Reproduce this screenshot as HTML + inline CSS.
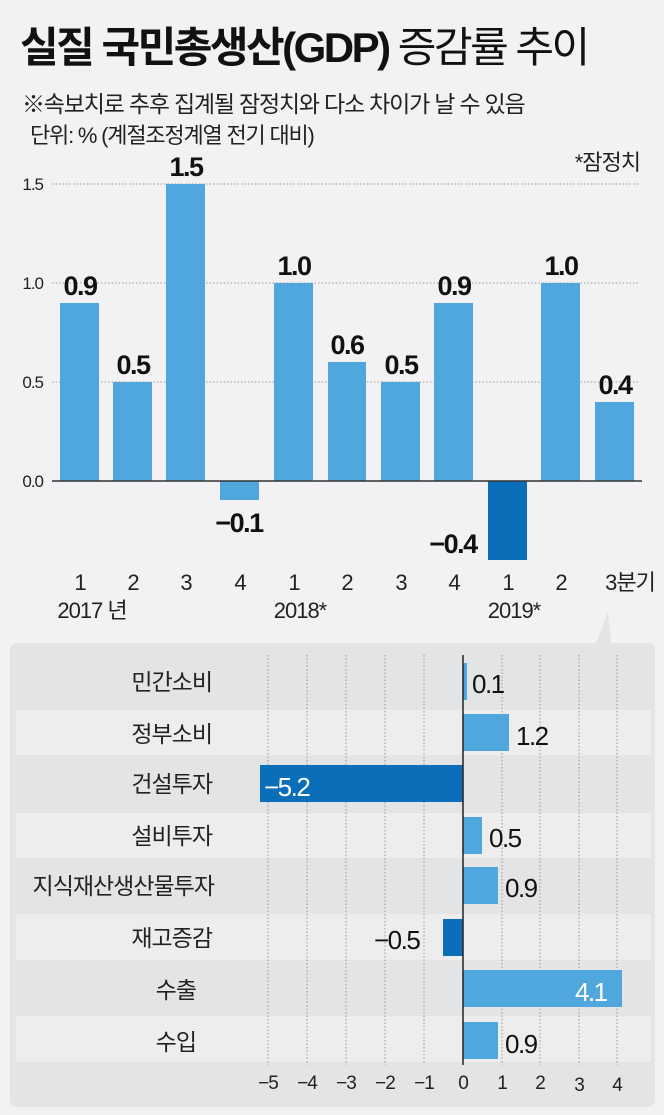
<!DOCTYPE html>
<html><head><meta charset="utf-8"><style>
html,body{margin:0;padding:0;background:#f2f2f4;}
svg{display:block;font-family:"Liberation Sans","Noto Sans CJK KR",sans-serif;}
</style></head><body>
<svg width="664" height="1115" viewBox="0 0 664 1115">
<rect width="664" height="1115" fill="#f2f2f4"/>
<text x="20" y="62" font-size="42" font-weight="bold" fill="#111" letter-spacing="-2.5">실질 국민총생산(GDP)<tspan font-weight="normal"> 증감률 추이</tspan></text>
<text x="22" y="112" font-size="23" fill="#222" letter-spacing="-1.2">※속보치로 추후 집계될 잠정치와 다소 차이가 날 수 있음</text>
<text x="30" y="143" font-size="22" fill="#222" letter-spacing="-1.2">단위: % (계절조정계열 전기 대비)</text>
<text x="640" y="170" font-size="22" fill="#222" text-anchor="end" letter-spacing="-1">*잠정치</text>
<g stroke="#999" stroke-dasharray="1.5,2" stroke-width="1">
<line x1="52" y1="184" x2="640" y2="184"/><line x1="52" y1="283" x2="640" y2="283"/><line x1="52" y1="382" x2="640" y2="382"/>
</g>
<g font-size="17" fill="#222" text-anchor="end" letter-spacing="-1">
<text x="43" y="190">1.5</text><text x="43" y="289">1.0</text><text x="43" y="388">0.5</text><text x="43" y="487">0.0</text>
</g>
<g fill="#4fa7dd">
<rect x="60" y="303" width="39" height="178"/>
<rect x="113" y="382" width="39" height="99"/>
<rect x="166" y="184" width="39" height="297"/>
<rect x="220" y="481" width="39" height="19"/>
<rect x="274" y="283" width="39" height="198"/>
<rect x="328" y="362" width="38" height="119"/>
<rect x="381" y="382" width="39" height="99"/>
<rect x="434" y="303" width="39" height="178"/>
<rect x="488" y="481" width="39" height="79" fill="#0a6fb8"/>
<rect x="541" y="283" width="39" height="198"/>
<rect x="595" y="402" width="39" height="79"/>
</g>
<line x1="52" y1="481" x2="642" y2="481" stroke="#333" stroke-width="1.5"/>
<g font-size="27" font-weight="bold" fill="#111" text-anchor="middle" letter-spacing="-1.5">
<text x="80" y="295">0.9</text><text x="133" y="374">0.5</text><text x="186" y="176">1.5</text>
<text x="239" y="532">−0.1</text><text x="294" y="275">1.0</text><text x="347" y="354">0.6</text>
<text x="401" y="374">0.5</text><text x="454" y="295">0.9</text><text x="453" y="553">−0.4</text>
<text x="561" y="275">1.0</text><text x="615" y="394">0.4</text>
</g>
<g font-size="22" fill="#222" text-anchor="middle" letter-spacing="-1">
<text x="80" y="590">1</text><text x="133" y="590">2</text><text x="186" y="590">3</text><text x="240" y="590">4</text>
<text x="294" y="590">1</text><text x="347" y="590">2</text><text x="401" y="590">3</text><text x="454" y="590">4</text>
<text x="508" y="590">1</text><text x="561" y="590">2</text><text x="630" y="590">3분기</text>
<text x="92" y="618">2017 년</text><text x="300" y="618">2018*</text><text x="514" y="618">2019*</text>
</g>
<path d="M18 643 H596 L608 612 L611 643 H647 Q655 643 655 651 V1099 Q655 1107 647 1107 H18 Q10 1107 10 1099 V651 Q10 643 18 643 Z" fill="#e3e4e6"/>
<g fill="#ededee">
<rect x="16" y="710" width="635" height="45"/>
<rect x="16" y="813" width="635" height="45"/>
<rect x="16" y="914" width="635" height="46"/>
<rect x="16" y="1016" width="635" height="46"/>
</g>
<g stroke="#999" stroke-dasharray="1.5,2" stroke-width="1">
<line x1="268" y1="655" x2="268" y2="1065"/><line x1="307" y1="655" x2="307" y2="1065"/><line x1="346" y1="655" x2="346" y2="1065"/>
<line x1="385" y1="655" x2="385" y2="1065"/><line x1="424" y1="655" x2="424" y2="1065"/><line x1="502" y1="655" x2="502" y2="1065"/>
<line x1="540" y1="655" x2="540" y2="1065"/><line x1="579" y1="655" x2="579" y2="1065"/><line x1="617" y1="655" x2="617" y2="1065"/>
</g>
<g fill="#4fa7dd">
<rect x="463" y="663" width="4" height="37"/>
<rect x="463" y="714" width="46" height="37"/>
<rect x="260" y="765" width="203" height="37" fill="#0a6fb8"/>
<rect x="463" y="817" width="19" height="37"/>
<rect x="463" y="867" width="35" height="37"/>
<rect x="443" y="919" width="20" height="37" fill="#0a6fb8"/>
<rect x="463" y="970" width="159" height="37"/>
<rect x="463" y="1022" width="35" height="37"/>
</g>
<line x1="463" y1="655" x2="463" y2="1065" stroke="#222" stroke-width="1.5"/>
<g font-size="23" fill="#222" text-anchor="end" letter-spacing="-1">
<text x="212" y="690">민간소비</text><text x="212" y="742">정부소비</text><text x="212" y="792">건설투자</text>
<text x="212" y="844">설비투자</text><text x="214" y="894">지식재산생산물투자</text><text x="212" y="946">재고증감</text>
<text x="196" y="998">수출</text><text x="196" y="1050">수입</text>
</g>
<g font-size="26" fill="#111" letter-spacing="-1.5">
<text x="472" y="693">0.1</text><text x="516" y="745">1.2</text>
<text x="264" y="796" fill="#fff">−5.2</text>
<text x="489" y="847">0.5</text><text x="505" y="897">0.9</text>
<text x="374" y="949">−0.5</text>
<text x="575" y="1001" fill="#fff">4.1</text>
<text x="505" y="1053">0.9</text>
</g>
<g font-size="19" fill="#222" text-anchor="middle" letter-spacing="-1">
<text x="268" y="1089">−5</text><text x="307" y="1089">−4</text><text x="346" y="1089">−3</text><text x="385" y="1089">−2</text><text x="424" y="1089">−1</text>
<text x="463" y="1089">0</text><text x="502" y="1089">1</text><text x="540" y="1089">2</text><text x="579" y="1091">3</text><text x="617" y="1091">4</text>
</g>
</svg>
</body></html>
